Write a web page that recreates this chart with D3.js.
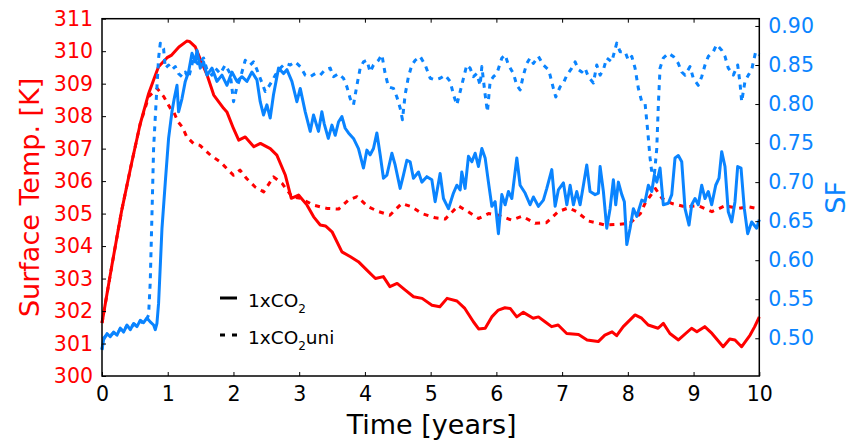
<!DOCTYPE html>
<html lang="en">

<head>
  <meta charset="UTF-8">
  <title>surface temp and SF</title>
  <script src="https://cdn.jsdelivr.net/npm/d3@7"></script>
  <style>
    body { margin: 0; background: #fff; }
    text { font-family: "DejaVu Sans", sans-serif; }
  </style>
</head>

<body>
  <svg width="851" height="442"></svg>
  <script>
    // time in years
    var tempT = [0, 0.15, 0.30, 0.45, 0.58, 0.71, 0.80, 0.86, 0.99, 1.06, 1.17, 1.29, 1.33, 1.42, 1.49, 1.60, 1.70, 1.85, 1.90, 2.00,
      2.08, 2.18, 2.31, 2.41, 2.56, 2.66, 2.79, 2.88, 2.99, 3.12, 3.22, 3.32, 3.40, 3.50, 3.65, 3.78, 3.90, 4.03, 4.16, 4.28,
      4.38, 4.49, 4.61, 4.74, 4.87, 5.02, 5.14, 5.25, 5.40, 5.52, 5.65, 5.73, 5.83, 5.93, 6.03, 6.13, 6.21, 6.31, 6.41, 6.56,
      6.64, 6.74, 6.84, 6.94, 7.07, 7.25, 7.38, 7.55, 7.65, 7.76, 7.83, 7.93, 8.11, 8.21, 8.31, 8.46, 8.54, 8.64, 8.77, 8.97,
      9.05, 9.17, 9.28, 9.45, 9.55, 9.63, 9.73, 9.86, 9.93, 10.0]
    var temp1x = [301.63, 303.4, 305.1, 306.55, 307.75, 308.7, 309.2, 309.52, 309.8, 309.88, 310.13, 310.31, 310.3, 310.13, 309.78, 309.26, 308.65, 308.24, 308.13, 307.62,
      307.26, 307.36, 307.06, 307.16, 307.0, 306.8, 306.18, 305.47, 305.57, 305.26, 304.9, 304.65, 304.62, 304.44, 303.82, 303.67, 303.52, 303.26, 303.0, 303.06,
      302.75, 302.85, 302.65, 302.44, 302.39, 302.18, 302.13, 302.39, 302.31, 302.08, 301.67, 301.45, 301.47, 301.82, 302.03, 302.1, 302.08, 301.82, 301.96, 301.78,
      301.82, 301.67, 301.52, 301.57, 301.31, 301.28, 301.11, 301.06, 301.26, 301.36, 301.24, 301.52, 301.88, 301.78, 301.57, 301.47, 301.62, 301.31, 301.11, 301.47,
      301.36, 301.52, 301.31, 300.9, 301.14, 301.11, 300.9, 301.26, 301.52, 301.82]

    var tempUniT = [0, 0.15, 0.30, 0.45, 0.58, 0.71, 0.84, 0.94, 1.04, 1.09, 1.16, 1.22, 1.29, 1.39, 1.49, 1.65, 1.80, 2.00, 2.10, 2.20,
      2.33, 2.46, 2.61, 2.74, 2.89, 3.02, 3.22, 3.42, 3.60, 3.75, 3.88, 4.05, 4.21, 4.38, 4.56, 4.71, 4.87, 5.07, 5.22, 5.42,
      5.57, 5.73, 5.88, 6.03, 6.23, 6.39, 6.59, 6.76, 6.94, 7.10, 7.22, 7.40, 7.65, 7.86, 8.03, 8.19, 8.26, 8.42, 8.52, 8.67,
      8.87, 9.07, 9.28, 9.48, 9.68, 9.83, 10.0]
    var temp1xUni = [301.63, 303.4, 305.1, 306.55, 307.75, 308.6, 308.85, 308.6, 308.24, 308.13, 307.82, 307.67, 307.36, 307.16, 307.1, 306.8, 306.59, 306.18, 306.34, 306.08,
      305.82, 305.67, 306.13, 305.93, 305.52, 305.47, 305.26, 305.16, 305.14, 305.42, 305.52, 305.21, 305.06, 304.95, 305.31, 305.21, 305.0, 304.87, 304.83, 305.24,
      305.06, 304.85, 305.0, 304.95, 304.8, 304.92, 304.7, 304.72, 305.06, 305.18, 305.06, 304.77, 304.65, 304.67, 304.7, 305.0, 305.31, 305.77, 305.47, 305.31,
      305.21, 305.24, 305.06, 305.24, 305.16, 305.21, 305.14]

    var sfT = [0, 0.024, 0.076, 0.126, 0.176, 0.228, 0.278, 0.328, 0.380, 0.430, 0.481, 0.532, 0.582, 0.633, 0.684, 0.734, 0.785, 0.811, 0.836, 0.861,
      0.912, 0.963, 1.013, 1.064, 1.099, 1.141, 1.165,
      1.217, 1.267, 1.317, 1.369, 1.419, 1.445, 1.495, 1.545, 1.597, 1.673, 1.749, 1.825, 1.901, 1.977, 2.053, 2.129, 2.205, 2.281, 2.357, 2.407,
      2.457, 2.509, 2.559, 2.609, 2.686, 2.762, 2.813, 2.889, 2.965, 3.016, 3.092, 3.168, 3.218, 3.294, 3.345, 3.380, 3.443, 3.498, 3.548, 3.598,
      3.650, 3.700, 3.750, 3.826, 3.902, 3.978, 4.030, 4.080, 4.130, 4.182, 4.232, 4.282, 4.334, 4.410, 4.460, 4.536, 4.586, 4.638, 4.688, 4.738,
      4.815, 4.866, 4.942, 5.018, 5.068, 5.144, 5.195, 5.271, 5.347, 5.398, 5.449, 5.474, 5.524, 5.575, 5.627, 5.677, 5.727, 5.779, 5.829, 5.879,
      5.931, 5.981, 6.031, 6.083, 6.133, 6.183, 6.235, 6.311, 6.361, 6.437, 6.513, 6.563, 6.639, 6.715, 6.767, 6.843, 6.894, 6.943, 7.020, 7.072,
      7.122, 7.172, 7.223, 7.274, 7.324, 7.375, 7.425, 7.502, 7.552, 7.578, 7.628, 7.679, 7.730, 7.780, 7.816, 7.856, 7.908, 7.947, 7.984, 8.034,
      8.084, 8.136, 8.212, 8.262, 8.312, 8.364, 8.403, 8.440, 8.490, 8.540, 8.616, 8.668, 8.718, 8.768, 8.820, 8.870, 8.931, 8.972, 9.022, 9.072,
      9.124, 9.174, 9.224, 9.276, 9.337, 9.387, 9.428, 9.478, 9.528, 9.580, 9.630, 9.671, 9.722, 9.772, 9.823, 9.884, 9.960, 10.0]
    var sf1x = [0.485, 0.498, 0.506, 0.502, 0.508, 0.504, 0.513, 0.508, 0.517, 0.511, 0.519, 0.515, 0.523, 0.520, 0.526, 0.521, 0.517, 0.511, 0.519, 0.545,
      0.640, 0.700, 0.756, 0.790, 0.807, 0.824, 0.790,
      0.807, 0.829, 0.841, 0.865, 0.854, 0.869, 0.846, 0.854, 0.837, 0.846, 0.829, 0.837, 0.824, 0.841, 0.829, 0.835, 0.829, 0.841, 0.831, 0.803,
      0.786, 0.799, 0.782, 0.812, 0.846, 0.839, 0.844, 0.829, 0.803, 0.820, 0.790, 0.765, 0.786, 0.765, 0.790, 0.775, 0.756, 0.773, 0.760, 0.777,
      0.784, 0.769, 0.763, 0.756, 0.743, 0.718, 0.741, 0.735, 0.743, 0.763, 0.735, 0.705, 0.709, 0.737, 0.722, 0.692, 0.709, 0.728, 0.726, 0.705,
      0.713, 0.700, 0.707, 0.703, 0.675, 0.711, 0.679, 0.666, 0.686, 0.696, 0.690, 0.713, 0.692, 0.733, 0.726, 0.737, 0.720, 0.743, 0.731, 0.700,
      0.669, 0.675, 0.634, 0.684, 0.671, 0.688, 0.679, 0.731, 0.696, 0.686, 0.671, 0.681, 0.669, 0.677, 0.692, 0.716, 0.669, 0.690, 0.699, 0.671,
      0.696, 0.671, 0.688, 0.671, 0.696, 0.722, 0.688, 0.684, 0.686, 0.720, 0.688, 0.641, 0.666, 0.703, 0.671, 0.700, 0.684, 0.675, 0.620, 0.641,
      0.666, 0.656, 0.677, 0.675, 0.696, 0.688, 0.709, 0.700, 0.718, 0.671, 0.673, 0.684, 0.731, 0.734, 0.726, 0.666, 0.645, 0.671, 0.679, 0.671,
      0.696, 0.679, 0.688, 0.671, 0.696, 0.705, 0.739, 0.720, 0.662, 0.649, 0.675, 0.720, 0.718, 0.666, 0.634, 0.649, 0.641, 0.652]

    var sfUniT = [0, 0.024, 0.076, 0.126, 0.176, 0.228, 0.278, 0.328, 0.380, 0.430, 0.481, 0.532, 0.582, 0.633, 0.684, 0.709, 0.734, 0.760, 0.785, 0.826,
      0.861, 0.887, 0.937, 0.963, 1.013,
      1.064, 1.115, 1.165, 1.217, 1.267, 1.317, 1.393, 1.469, 1.545, 1.597, 1.673, 1.723, 1.799, 1.875, 1.951, 2.001, 2.053, 2.103, 2.179, 2.255,
      2.305, 2.357, 2.407, 2.483, 2.533, 2.585, 2.636, 2.712, 2.788, 2.864, 2.940, 3.016, 3.092, 3.168, 3.244, 3.320, 3.396, 3.472, 3.522, 3.598,
      3.674, 3.726, 3.776, 3.826, 3.878, 3.928, 3.978, 4.030, 4.080, 4.130, 4.206, 4.258, 4.308, 4.358, 4.434, 4.486, 4.536, 4.571, 4.612, 4.662,
      4.714, 4.764, 4.840, 4.917, 4.993, 5.068, 5.144, 5.220, 5.297, 5.347, 5.398, 5.449, 5.499, 5.550, 5.600, 5.651, 5.703, 5.753, 5.779, 5.829,
      5.864, 5.905, 5.955, 6.007, 6.083, 6.133, 6.183, 6.259, 6.311, 6.361, 6.411, 6.463, 6.513, 6.563, 6.639, 6.715, 6.791, 6.817, 6.867, 6.904,
      6.969, 7.020, 7.072, 7.147, 7.198, 7.248, 7.299, 7.349, 7.399, 7.476, 7.527, 7.578, 7.628, 7.679, 7.755, 7.831, 7.882, 7.958, 8.008, 8.060,
      8.110, 8.160, 8.212, 8.262, 8.303, 8.338, 8.364, 8.403, 8.440, 8.464, 8.490, 8.540, 8.616, 8.692, 8.768, 8.820, 8.870, 8.946, 8.996, 9.072,
      9.124, 9.174, 9.224, 9.300, 9.351, 9.428, 9.478, 9.528, 9.605, 9.671, 9.706, 9.732, 9.782, 9.833, 9.884, 9.945, 10.0]
    var sf1xUni = [0.486, 0.500, 0.505, 0.503, 0.507, 0.505, 0.512, 0.509, 0.516, 0.512, 0.518, 0.516, 0.522, 0.519, 0.525, 0.530, 0.572, 0.658, 0.743, 0.807,
      0.859, 0.878, 0.871, 0.846, 0.850,
      0.844, 0.848, 0.839, 0.835, 0.841, 0.833, 0.859, 0.850, 0.859, 0.844, 0.837, 0.846, 0.839, 0.850, 0.839, 0.803, 0.822, 0.833, 0.856, 0.850,
      0.854, 0.844, 0.833, 0.816, 0.822, 0.829, 0.837, 0.846, 0.852, 0.850, 0.854, 0.848, 0.837, 0.835, 0.839, 0.837, 0.844, 0.846, 0.835, 0.839,
      0.833, 0.822, 0.807, 0.799, 0.824, 0.846, 0.854, 0.856, 0.841, 0.850, 0.856, 0.863, 0.839, 0.822, 0.820, 0.809, 0.795, 0.780, 0.812, 0.835,
      0.850, 0.856, 0.861, 0.850, 0.833, 0.831, 0.833, 0.837, 0.829, 0.812, 0.799, 0.816, 0.833, 0.850, 0.846, 0.835, 0.839, 0.824, 0.848, 0.812,
      0.790, 0.829, 0.835, 0.839, 0.859, 0.863, 0.850, 0.839, 0.824, 0.818, 0.837, 0.852, 0.859, 0.852, 0.861, 0.850, 0.844, 0.837, 0.820, 0.809,
      0.822, 0.827, 0.837, 0.846, 0.854, 0.844, 0.841, 0.846, 0.835, 0.827, 0.850, 0.837, 0.844, 0.859, 0.854, 0.878, 0.867, 0.867, 0.856, 0.861,
      0.846, 0.820, 0.803, 0.801, 0.765, 0.731, 0.713, 0.709, 0.743, 0.799, 0.846, 0.859, 0.865, 0.861, 0.852, 0.841, 0.837, 0.848, 0.833, 0.824,
      0.835, 0.850, 0.861, 0.867, 0.876, 0.869, 0.861, 0.846, 0.837, 0.850, 0.827, 0.803, 0.829, 0.837, 0.844, 0.867, 0.863]

    var xTicks = [0, 1, 2, 3, 4, 5, 6, 7, 8, 9, 10]
    var tempTicks = [300, 301, 302, 303, 304, 305, 306, 307, 308, 309, 310, 311]
    var sfTicks = [0.50, 0.55, 0.60, 0.65, 0.70, 0.75, 0.80, 0.85, 0.90]

    var red = '#ff0000'
    var blue = '#0a84ff'

    var svg = d3.select('svg')
    var pLeft = 102, pRight = 759.3, pTop = 18.7, pBottom = 376

    var x = d3.scaleLinear().domain([0, 10]).range([pLeft, pRight])
    var yT = d3.scaleLinear().domain([300, 311]).range([pBottom, pTop])
    var ySF = d3.scaleLinear().domain([0.4517, 0.9093]).range([pBottom, pTop])

    function zip(xs, ys) {
      return xs.map((d, i) => [d, ys[i]])
    }

    var series = [
      { data: zip(tempT, temp1x), y: yT, color: red, dash: null },
      { data: zip(tempUniT, temp1xUni), y: yT, color: red, dash: '5,5.5' },
      { data: zip(sfT, sf1x), y: ySF, color: blue, dash: null },
      { data: zip(sfUniT, sf1xUni), y: ySF, color: blue, dash: '5,5.5' }
    ]

    var g = svg.append('g')
    series.forEach(s => {
      var line = d3.line().x(d => x(d[0])).y(d => s.y(d[1]))
      g.append('path')
        .attr('d', line(s.data))
        .attr('fill', 'none')
        .attr('stroke', s.color)
        .attr('stroke-width', 3)
        .attr('stroke-linejoin', 'round')
        .attr('stroke-dasharray', s.dash)
    })

    // axes, ticks point inwards
    var fs = '20.5px'
    var ax = svg.append('g').attr('transform', `translate(0,${pBottom})`)
      .call(d3.axisBottom(x).tickValues(xTicks).tickSizeInner(-4).tickSizeOuter(0).tickPadding(10).tickFormat(d3.format('d')))
    var axTop = svg.append('g').attr('transform', `translate(0,${pTop})`)
      .call(d3.axisTop(x).tickValues(xTicks.slice(1, -1)).tickSizeInner(-4).tickSizeOuter(0).tickFormat(''))
    var ayL = svg.append('g').attr('transform', `translate(${pLeft},0)`)
      .call(d3.axisLeft(yT).tickValues(tempTicks).tickSizeInner(-4).tickSizeOuter(0).tickPadding(9).tickFormat(d3.format('d')))
    var ayR = svg.append('g').attr('transform', `translate(${pRight},0)`)
      .call(d3.axisRight(ySF).tickValues(sfTicks).tickSizeInner(-4).tickSizeOuter(0).tickPadding(9).tickFormat(d3.format('.2f')))

    svg.selectAll('.domain').remove()
    svg.selectAll('.tick line').attr('stroke', '#000').attr('stroke-width', 1)
    svg.selectAll('.tick text').attr('font-family', 'DejaVu Sans').attr('font-size', fs)
    ax.selectAll('text').attr('fill', '#000')
    ayL.selectAll('text').attr('fill', red)
    ayR.selectAll('text').attr('fill', blue)

    svg.append('rect')
      .attr('x', pLeft).attr('y', pTop)
      .attr('width', pRight - pLeft).attr('height', pBottom - pTop)
      .attr('fill', 'none').attr('stroke', '#000').attr('stroke-width', 1.5)

    // axis titles
    svg.append('text')
      .attr('x', (pLeft + pRight) / 2 + 1).attr('y', 434)
      .attr('text-anchor', 'middle').attr('font-size', '27px')
      .text('Time [years]')
    svg.append('text')
      .attr('transform', `translate(39,${(pTop + pBottom) / 2}) rotate(-90)`)
      .attr('text-anchor', 'middle').attr('font-size', '27px').attr('fill', red)
      .text('Surface Temp. [K]')
    svg.append('text')
      .attr('transform', `translate(845,${(pTop + pBottom) / 2}) rotate(-90)`)
      .attr('text-anchor', 'middle').attr('font-size', '27px').attr('fill', blue)
      .text('SF')

    // legend
    var legend = svg.append('g').attr('transform', 'translate(220,298)')
    var items = [{ dash: null, label: '1xCO', sub: '2', after: '' }, { dash: '5,7', label: '1xCO', sub: '2', after: 'uni' }]
    items.forEach((it, i) => {
      var row = legend.append('g').attr('transform', `translate(0,${i * 37})`)
      row.append('line')
        .attr('x1', 0).attr('x2', 17)
        .attr('stroke', '#000').attr('stroke-width', 3)
        .attr('stroke-dasharray', it.dash)
      var t = row.append('text')
        .attr('x', 28).attr('y', 8.5)
        .attr('font-size', '18.5px').attr('fill', '#000')
      t.append('tspan').text(it.label)
      t.append('tspan').attr('font-size', '12px').attr('dy', 6).text(it.sub)
      t.append('tspan').attr('dy', -6).text(it.after)
    })
  </script>
</body>

</html>
